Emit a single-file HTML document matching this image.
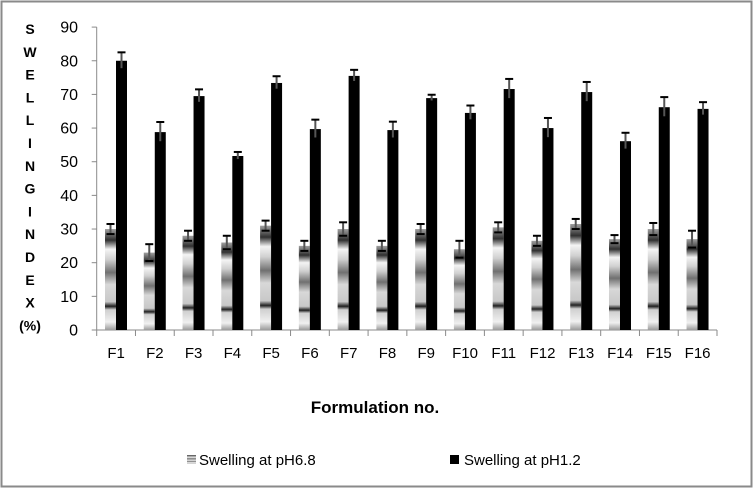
<!DOCTYPE html>
<html><head><meta charset="utf-8"><style>
body{margin:0;background:#fff;}
svg{display:block;font-family:"Liberation Sans",sans-serif;}
</style></head><body>
<svg id="chart" width="753" height="488" viewBox="0 0 753 488">
<defs>
<linearGradient id="stripe" x1="0" y1="1" x2="0" y2="0">
<stop offset="0" stop-color="#9a9a9a"/><stop offset="0.08" stop-color="#f0f0f0"/>
<stop offset="0.2" stop-color="#d0d0d0"/><stop offset="0.235" stop-color="#202020"/>
<stop offset="0.28" stop-color="#c8c8c8"/><stop offset="0.45" stop-color="#d8d8d8"/>
<stop offset="0.57" stop-color="#707070"/><stop offset="0.7" stop-color="#d0d0d0"/>
<stop offset="0.8" stop-color="#f4f4f4"/><stop offset="0.89" stop-color="#303030"/>
<stop offset="1" stop-color="#a0a0a0"/>
</linearGradient>
</defs>
<rect x="1.5" y="1.5" width="750" height="485" fill="#fff" stroke="#8a8a8a" stroke-width="2"/>
<g id="ylabel" font-weight="bold" font-size="14" text-anchor="middle"></g>
<g id="axes"></g>
<g id="bars"></g>
<text x="375" y="413" text-anchor="middle" font-weight="bold" font-size="17">Formulation no.</text>
<rect x="187" y="455" width="9" height="9" fill="url(#stripe)"/>
<text x="199" y="465" font-size="15">Swelling at pH6.8</text>
<rect x="450" y="455" width="9" height="9" fill="#000"/>
<text x="464" y="465" font-size="15">Swelling at pH1.2</text>
</svg>
<script>
const categories=["F1","F2","F3","F4","F5","F6","F7","F8","F9","F10","F11","F12","F13","F14","F15","F16"];
const ph68=[30,23,28,26,31,25,30,25,30,24,30.5,26.5,31.5,27,30,27];
const ph68Err=[1.5,2.5,1.5,2,1.5,1.5,2,1.5,1.5,2.5,1.5,1.5,1.5,1.2,1.8,2.5];
const ph12=[80,58.8,69.5,51.7,73.4,59.7,75.5,59.4,68.9,64.5,71.6,60,70.7,56.1,66.2,65.7];
const ph12Err=[2.5,3,2,1.2,2,2.8,1.8,2.5,1,2.2,3,3,3,2.5,3,2];
const yTicks=[0,10,20,30,40,50,60,70,80,90];
const yLetters=["S","W","E","L","L","I","N","G","I","N","D","E","X","(%)"];
const NS="http://www.w3.org/2000/svg";
const x0=96.7,x1=717,y0=330,yTop=27.1,yMax=90;
const bw=(x1-x0)/categories.length;
const Y=v=>y0-(v/yMax)*(y0-yTop);
const X=i=>x0+i*bw;
function mk(tag,attrs,parent){const e=document.createElementNS(NS,tag);for(const k in attrs)e.setAttribute(k,attrs[k]);parent.appendChild(e);return e;}
const yl=document.getElementById('ylabel');
yLetters.forEach((c,i)=>{const t=mk('text',{x:30,y:34+i*22.8},yl);t.textContent=c;

});
const ax=document.getElementById('axes');
const yAxis=mk('line',{x1:x0,y1:yTop,x2:x0,y2:y0,stroke:'#8a8a8a'},ax);


const xAxis=mk('line',{x1:x0,y1:y0,x2:x1,y2:y0,stroke:'#8a8a8a'},ax);


yTicks.forEach(v=>{mk('line',{x1:x0-5,y1:Y(v),x2:x0,y2:Y(v),stroke:'#8a8a8a'},ax);
const t=mk('text',{x:78,y:Y(v)+5.5,'text-anchor':'end','font-size':16},ax);t.textContent=v;

});
for(let i=0;i<=categories.length;i++)mk('line',{x1:X(i),y1:y0,x2:X(i),y2:y0+6,stroke:'#8a8a8a'},ax);
categories.forEach((c,i)=>{const t=mk('text',{x:X(i)+bw/2,y:358,'text-anchor':'middle','font-size':15},ax);t.textContent=c;

});
const bg=document.getElementById('bars');
function err(cx,v,e){const g=mk('g',{stroke:'#000','stroke-width':2},bg);
mk('line',{x1:cx,y1:Y(v+e),x2:cx,y2:Y(v-e),stroke:'#555'},g);
mk('line',{x1:cx-4,y1:Y(v+e),x2:cx+4,y2:Y(v+e)},g);
mk('line',{x1:cx-4,y1:Y(v-e),x2:cx+4,y2:Y(v-e)},g);

}
categories.forEach((c,i)=>{
const bx=X(i)+8.3,w=11;
const a=mk('rect',{x:bx,y:Y(ph68[i]),width:w,height:y0-Y(ph68[i]),fill:'url(#stripe)'},bg);


const b=mk('rect',{x:bx+w,y:Y(ph12[i]),width:w,height:y0-Y(ph12[i]),fill:'#000'},bg);


err(bx+w/2,ph68[i],ph68Err[i]);
err(bx+w*1.5,ph12[i],ph12Err[i]);
});
</script>
</body></html>
